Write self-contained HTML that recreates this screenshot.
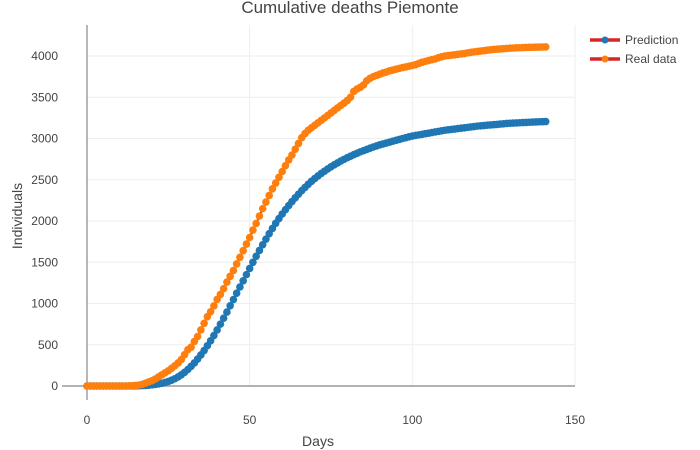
<!DOCTYPE html>
<html><head><meta charset="utf-8"><style>
body{margin:0;background:#fff;}
svg{display:block;font-family:"Liberation Sans",sans-serif;}
</style></head><body>
<svg id="chart" width="700" height="450" viewBox="0 0 700 450">
<text x="350" y="13" text-anchor="middle" font-size="17" fill="#444">Cumulative deaths Piemonte</text>
<g id="grid"></g><g id="axes"></g><g id="series"></g>
<text x="318" y="446" text-anchor="middle" font-size="14" fill="#444">Days</text>
<text transform="translate(22,216) rotate(-90)" text-anchor="middle" font-size="14" fill="#444">Individuals</text>
<g>
<g>
<line x1="590" y1="40" x2="620" y2="40" stroke="#d62728" stroke-width="3.5"/><circle cx="605" cy="40" r="3.5" fill="#1f77b4"/>
<text x="625" y="44" font-size="12" fill="#444">Prediction</text></g>
<g>
<line x1="590" y1="59" x2="620" y2="59" stroke="#d62728" stroke-width="3.5"/><circle cx="605" cy="59" r="3.5" fill="#ff7f0e"/>
<text x="625" y="63" font-size="12" fill="#444">Real data</text></g>
</g>
</svg>
<script>
const xTicks=[0,50,100,150];
const yTicks=[0,500,1000,1500,2000,2500,3000,3500,4000];
const prediction=[0,0,0,0,0,0,0,0,0,0,0,0,0,0,0,2,3,5,7,10,14,19,25,33,43,55,70,88,110,136,166,200,238,280,326,376,430,488,548,612,680,750,822,896,972,1048,1125,1200,1275,1350,1425,1500,1572,1643,1712,1780,1846,1910,1972,2030,2085,2137,2187,2235,2281,2325,2367,2407,2445,2481,2515,2546,2576,2604,2631,2657,2681,2704,2726,2747,2767,2786,2804,2821,2838,2853,2868,2883,2897,2910,2923,2934,2945,2956,2967,2978,2989,3000,3010,3020,3030,3037,3044,3051,3058,3065,3072,3079,3086,3093,3100,3105,3110,3115,3120,3125,3130,3135,3140,3145,3150,3154,3157,3161,3164,3168,3171,3175,3178,3182,3185,3187,3189,3191,3193,3195,3197,3199,3201,3203,3204,3205];
const realData=[0,0,0,0,0,0,0,0,0,0,0,0,0,2,4,7,12,20,35,50,65,85,110,135,160,185,215,245,280,320,380,440,470,540,600,680,760,840,900,970,1050,1110,1180,1260,1330,1400,1480,1560,1640,1720,1800,1890,1970,2060,2150,2230,2310,2390,2460,2530,2600,2670,2740,2800,2870,2940,3010,3060,3100,3130,3160,3190,3220,3250,3280,3310,3340,3370,3400,3430,3460,3500,3570,3600,3620,3650,3700,3730,3750,3765,3780,3795,3805,3820,3830,3840,3850,3860,3868,3876,3885,3895,3910,3925,3935,3945,3955,3965,3980,3990,4000,4005,4010,4015,4020,4025,4030,4038,4045,4050,4055,4060,4065,4070,4075,4080,4083,4086,4089,4092,4095,4097,4099,4100,4102,4104,4105,4106,4107,4108,4109,4110];
const NS="http://www.w3.org/2000/svg";
const X=d=>87+d*(575-87)/150;
const Y=v=>386-v*(386-56)/4000;
function mk(tag,attrs,parent){const e=document.createElementNS(NS,tag);for(const k in attrs)e.setAttribute(k,attrs[k]);parent.appendChild(e);return e;}
const grid=document.getElementById('grid'),axes=document.getElementById('axes'),ser=document.getElementById('series');
yTicks.forEach(t=>{
 if(t>0){const g=mk('line',{x1:87,x2:575,y1:Y(t),y2:Y(t),stroke:'#eee','stroke-width':1},grid);
 
 }
 const tx=mk('text',{x:58,y:Y(t)+4,'text-anchor':'end','font-size':12,fill:'#444'},axes);tx.textContent=t;
 
 
});
xTicks.forEach(t=>{
 if(t>0){const g=mk('line',{x1:X(t),x2:X(t),y1:25,y2:386,stroke:'#eee','stroke-width':1},grid);
 
 }
 const tx=mk('text',{x:X(t),y:424,'text-anchor':'middle','font-size':12,fill:'#444'},axes);tx.textContent=t;
 
 
});
const ya=mk('line',{x1:87,x2:87,y1:25,y2:400,stroke:'#888','stroke-width':1.2},axes);


const xa=mk('line',{x1:62,x2:575,y1:386,y2:386,stroke:'#999','stroke-width':1.6},axes);


function draw(vals,color,name){
 const g=mk('g',{},ser);
 
 
 const p=mk('polyline',{points:vals.map((v,i)=>X(i)+','+Y(v)).join(' '),fill:'none',stroke:'#d62728','stroke-width':2},g);
 
 
 vals.forEach((v,i)=>{const c=mk('circle',{cx:X(i),cy:Y(v),r:3.8,fill:color},g);
  
  });
}
draw(prediction,'#1f77b4','prediction');
draw(realData,'#ff7f0e','real-data');
</script>
</body></html>
